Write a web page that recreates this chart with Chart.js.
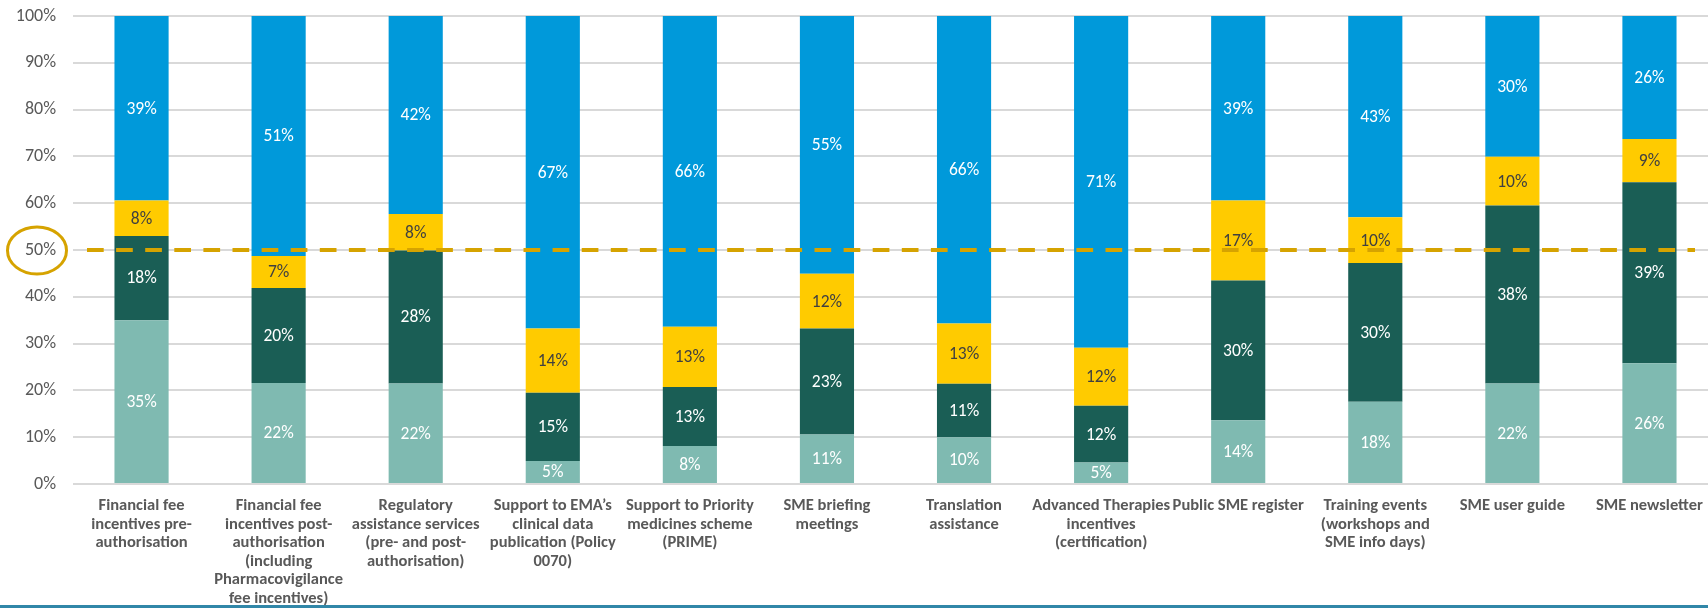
<!DOCTYPE html>
<html>
<head>
<meta charset="utf-8">
<script src="https://cdn.jsdelivr.net/npm/chart.js@4.4.0/dist/chart.umd.min.js"></script>
<style>
  html, body { margin: 0; padding: 0; background: #ffffff; overflow: hidden; }
  #wrap { width: 1708px; height: 608px; overflow: hidden; position: relative; }
  canvas { display: block; }
</style>
</head>
<body>
<div id="wrap"><canvas id="c" width="1720" height="608"></canvas></div>
<script>
const categories = [
  ["Financial fee", "incentives pre-", "authorisation"],
  ["Financial fee", "incentives post-", "authorisation", "(including", "Pharmacovigilance", "fee incentives)"],
  ["Regulatory", "assistance services", "(pre- and post-", "authorisation)"],
  ["Support to EMA\u2019s", "clinical data", "publication (Policy", "0070)"],
  ["Support to Priority", "medicines scheme", "(PRIME)"],
  ["SME briefing", "meetings"],
  ["Translation", "assistance"],
  ["Advanced Therapies", "incentives", "(certification)"],
  ["Public SME register"],
  ["Training events", "(workshops and", "SME info days)"],
  ["SME user guide"],
  ["SME newsletter"]
];

// Series values (percent of respondents), bottom to top
const seriesTeal   = [35.0, 21.6, 21.5, 4.9, 8.1, 10.6, 10.0, 4.6, 13.6, 17.6, 21.5, 25.8];
const seriesDark   = [18.0, 20.3, 28.4, 14.6, 12.6, 22.6, 11.4, 12.1, 29.9, 29.6, 38.0, 38.7];
const seriesYellow = [7.6, 6.8, 7.8, 13.7, 12.9, 11.7, 12.9, 12.4, 17.1, 9.8, 10.4, 9.2];
const seriesBlue   = [39.4, 51.3, 42.3, 66.8, 66.4, 55.1, 65.7, 70.9, 39.4, 43.0, 30.1, 26.3];

const yTicks = [0, 10, 20, 30, 40, 50, 60, 70, 80, 90, 100];
const thresholdValue = 50;

const FONT = "Carlito, Lato, 'Open Sans', sans-serif";

const overlayPlugin = {
  id: 'overlay',
  afterDatasetsDraw(chart) {
    const ctx = chart.ctx;
    const y = chart.scales.y.getPixelForValue(thresholdValue);
    ctx.save();
    ctx.strokeStyle = '#D6A300';
    ctx.lineWidth = 4;
    ctx.setLineDash([16.7, 12.4]);
    ctx.beginPath();
    ctx.moveTo(chart.chartArea.left + 14, y);
    ctx.lineTo(1695, y);
    ctx.stroke();
    ctx.setLineDash([]);
    ctx.lineWidth = 3;
    ctx.beginPath();
    ctx.ellipse(37, y + 0.5, 29.5, 23.5, 0, 0, Math.PI * 2);
    ctx.stroke();

    ctx.font = "17.5px " + FONT;
    ctx.textAlign = 'center';
    ctx.textBaseline = 'middle';
    chart.data.datasets.forEach((ds, i) => {
      const meta = chart.getDatasetMeta(i);
      meta.data.forEach((bar, j) => {
        const v = ds.data[j];
        const p = bar.getProps(['x', 'y', 'base'], true);
        ctx.fillStyle = ds.labelColor;
        ctx.fillText(Math.round(v) + '%', p.x, (p.y + p.base) / 2 + 1);
      });
    });
    ctx.restore();
  },
  afterDraw(chart) {
    const ctx = chart.ctx;
    ctx.save();
    ctx.fillStyle = '#3187A8';
    ctx.fillRect(0, chart.height - 3, chart.width, 3);
    ctx.restore();
  }
};

new Chart(document.getElementById('c'), {
  type: 'bar',
  data: {
    labels: categories,
    datasets: [
      { label: 'teal', data: seriesTeal, backgroundColor: '#7FBAB1', labelColor: '#ffffff' },
      { label: 'dark', data: seriesDark, backgroundColor: '#1A5E55', labelColor: '#ffffff' },
      { label: 'yellow', data: seriesYellow, backgroundColor: '#FFCB00', labelColor: '#404040' },
      { label: 'blue', data: seriesBlue, backgroundColor: '#0099DA', labelColor: '#ffffff' }
    ]
  },
  options: {
    responsive: false,
    animation: false,
    layout: { padding: { top: 16, right: 2, left: 0, bottom: 0 } },
    datasets: { bar: { barPercentage: 0.395, categoryPercentage: 1.0, borderWidth: 0 } },
    plugins: { legend: { display: false }, tooltip: { enabled: false } },
    scales: {
      x: {
        stacked: true,
        grid: { display: false, drawTicks: false },
        border: { display: false },
        ticks: {
          autoSkip: false, maxRotation: 0, minRotation: 0, padding: 13,
          color: '#595959',
          font: { family: FONT, size: 16.5, weight: 'bold', lineHeight: 1.12 }
        },
        afterFit(scale) { scale.height = 124; }
      },
      y: {
        stacked: true,
        min: 0, max: 100,
        afterBuildTicks(scale) { scale.ticks = yTicks.map(v => ({ value: v })); },
        grid: { color: '#D9D9D9', lineWidth: 2, drawTicks: false },
        border: { display: false },
        ticks: {
          padding: 17,
          color: '#595959',
          font: { family: FONT, size: 18 },
          callback: v => v + '%'
        },
        afterFit(scale) { scale.width = 73; scale.paddingTop = 10; scale.paddingBottom = 0; }
      }
    }
  },
  plugins: [overlayPlugin]
});
</script>
</body>
</html>
